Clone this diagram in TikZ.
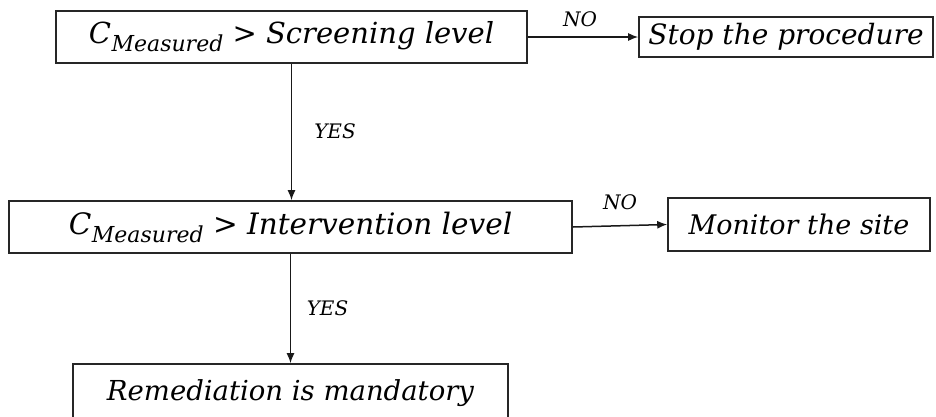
\documentclass[tikz,border=0pt]{standalone}
\usepackage{fontspec}
\setmainfont{DejaVu Serif}
\usetikzlibrary{arrows.meta}
\tikzset{
  box/.style={draw=black!85, line width=1.6pt, inner sep=0pt, anchor=center, font=\itshape},
  conn/.style={draw=black!90, line width=1.5pt, -{Latex[length=10pt,width=8pt]}},
  lbl/.style={font=\itshape\fontsize{20}{24}\selectfont, inner sep=0pt}
}
\newcommand{\cmeas}[1]{C\kern0.5pt\raisebox{-8pt}{\fontsize{#1}{#1}\selectfont Measured}}
\begin{document}
\begin{tikzpicture}[x=1pt,y=-1pt]
\useasboundingbox[fill=white] (0,0) rectangle (936,416);
\node[box, minimum width=471pt, minimum height=52pt, font=\itshape\fontsize{29}{34}\selectfont] (b1) at (291.5,37) {\cmeas{22} {\upshape >} Screening level};
\node[box, minimum width=294pt, minimum height=40pt, font=\itshape\fontsize{28}{32}\selectfont] (stop) at (786,37) {Stop the procedure};
\node[box, minimum width=563pt, minimum height=52pt, font=\itshape\fontsize{29.5}{34}\selectfont] (b2) at (290.5,227) {\cmeas{22} {\upshape >} Intervention level};
\node[box, minimum width=262pt, minimum height=53pt, font=\itshape\fontsize{27}{32}\selectfont] (mon) at (799,224.5) {Monitor the site};
\node[box, minimum width=435pt, minimum height=56pt, font=\itshape\fontsize{27.5}{32}\selectfont, text depth=0pt] (b3) at (290.5,392) {\raisebox{4pt}{Remediation is mandatory}};
\draw[conn] (b1.east) -- (stop.west);
\draw[conn] (b1.south) -- (b1.south |- b2.north);
\draw[conn] (b2.east) -- (mon.west);
\draw[conn] (b2.south) -- (b2.south |- b3.north);
\node[lbl] (no1) at (580,19) {NO};
\node[lbl] (yes1) at (335,131) {YES};
\node[lbl] (no2) at (620,202.5) {NO};
\node[lbl] (yes2) at (327.5,308.5) {YES};
\end{tikzpicture}
\end{document}
